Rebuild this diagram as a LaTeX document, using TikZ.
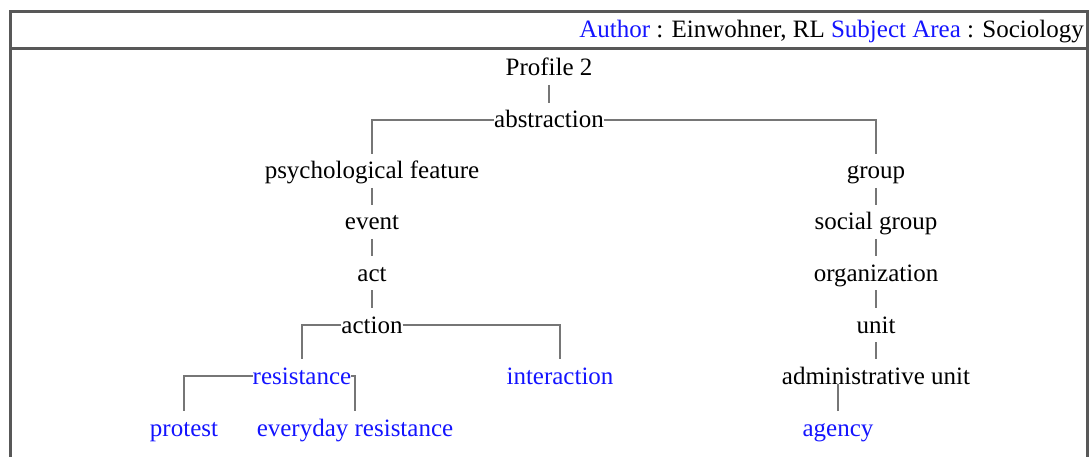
\documentclass[tikz,border=0pt]{standalone}
\usepackage{fontspec}
\setmainfont{Liberation Serif}
\begin{document}
\begin{tikzpicture}[x=1pt,y=-1pt,
  term/.style={anchor=base,inner sep=0pt,outer sep=0pt,text height=25pt,text depth=9pt,
    font=\fontsize{25}{30}\selectfont},
  leaf/.style={term,text=linkblue},
  link/.style={draw=treegray,line width=1.8pt},
  frame/.style={draw=framegray,line width=3pt}]
\definecolor{linkblue}{RGB}{20,20,255}
\definecolor{treegray}{RGB}{118,118,118}
\definecolor{framegray}{RGB}{88,88,88}
\useasboundingbox (0,0) rectangle (1090,457);

% table frame and header row
\draw[frame] (10,470) -- (10,11.5) -- (1087,11.5) -- (1087,470);
\draw[frame] (10,49) -- (1087,49);
\node[anchor=base east,inner sep=0pt,font=\fontsize{25}{30}\selectfont] (header) at (1084,38)
  {\textcolor{linkblue}{Author} : Einwohner, RL \textcolor{linkblue}{Subject Area} : Sociology};

% hierarchy terms
\node[term] (profile) at (549,76) {Profile 2};
\node[term] (abstraction) at (549,128) {abstraction};
\node[term] (psych) at (372,179) {psychological feature};
\node[term] (event) at (372,230) {event};
\node[term] (act) at (372,281) {act};
\node[term] (action) at (372,333) {action};
\node[leaf] (resistance) at (302,384) {resistance};
\node[leaf] (interaction) at (560,384) {interaction};
\node[leaf] (protest) at (184,436) {protest};
\node[leaf] (everyday) at (355,436) {everyday resistance};

\node[term] (group) at (876,179) {group};
\node[term] (social) at (876,230) {social group};
\node[term] (organization) at (876,281) {organization};
\node[term] (unit) at (876,333) {unit};
\node[term] (admin) at (876,384) {administrative unit};
\node[leaf] (agency) at (838,436) {agency};

% connectors
\draw[link] (profile.south) -- (abstraction.north);
\draw[link] (abstraction.west) -| (psych.north);
\draw[link] (abstraction.east) -| (group.north);
\draw[link] (psych.south) -- (event.north);
\draw[link] (event.south) -- (act.north);
\draw[link] (act.south) -- (action.north);
\draw[link] (action.west) -| (resistance.north);
\draw[link] (action.east) -| (interaction.north);
\draw[link] (resistance.west) -| (protest.north);
\draw[link] (resistance.east) -| (everyday.north);
\draw[link] (group.south) -- (social.north);
\draw[link] (social.south) -- (organization.north);
\draw[link] (organization.south) -- (unit.north);
\draw[link] (unit.south) -- (admin.north);
\draw[link] (agency.north) -- (agency.north |- admin.base);
\end{tikzpicture}
\end{document}
